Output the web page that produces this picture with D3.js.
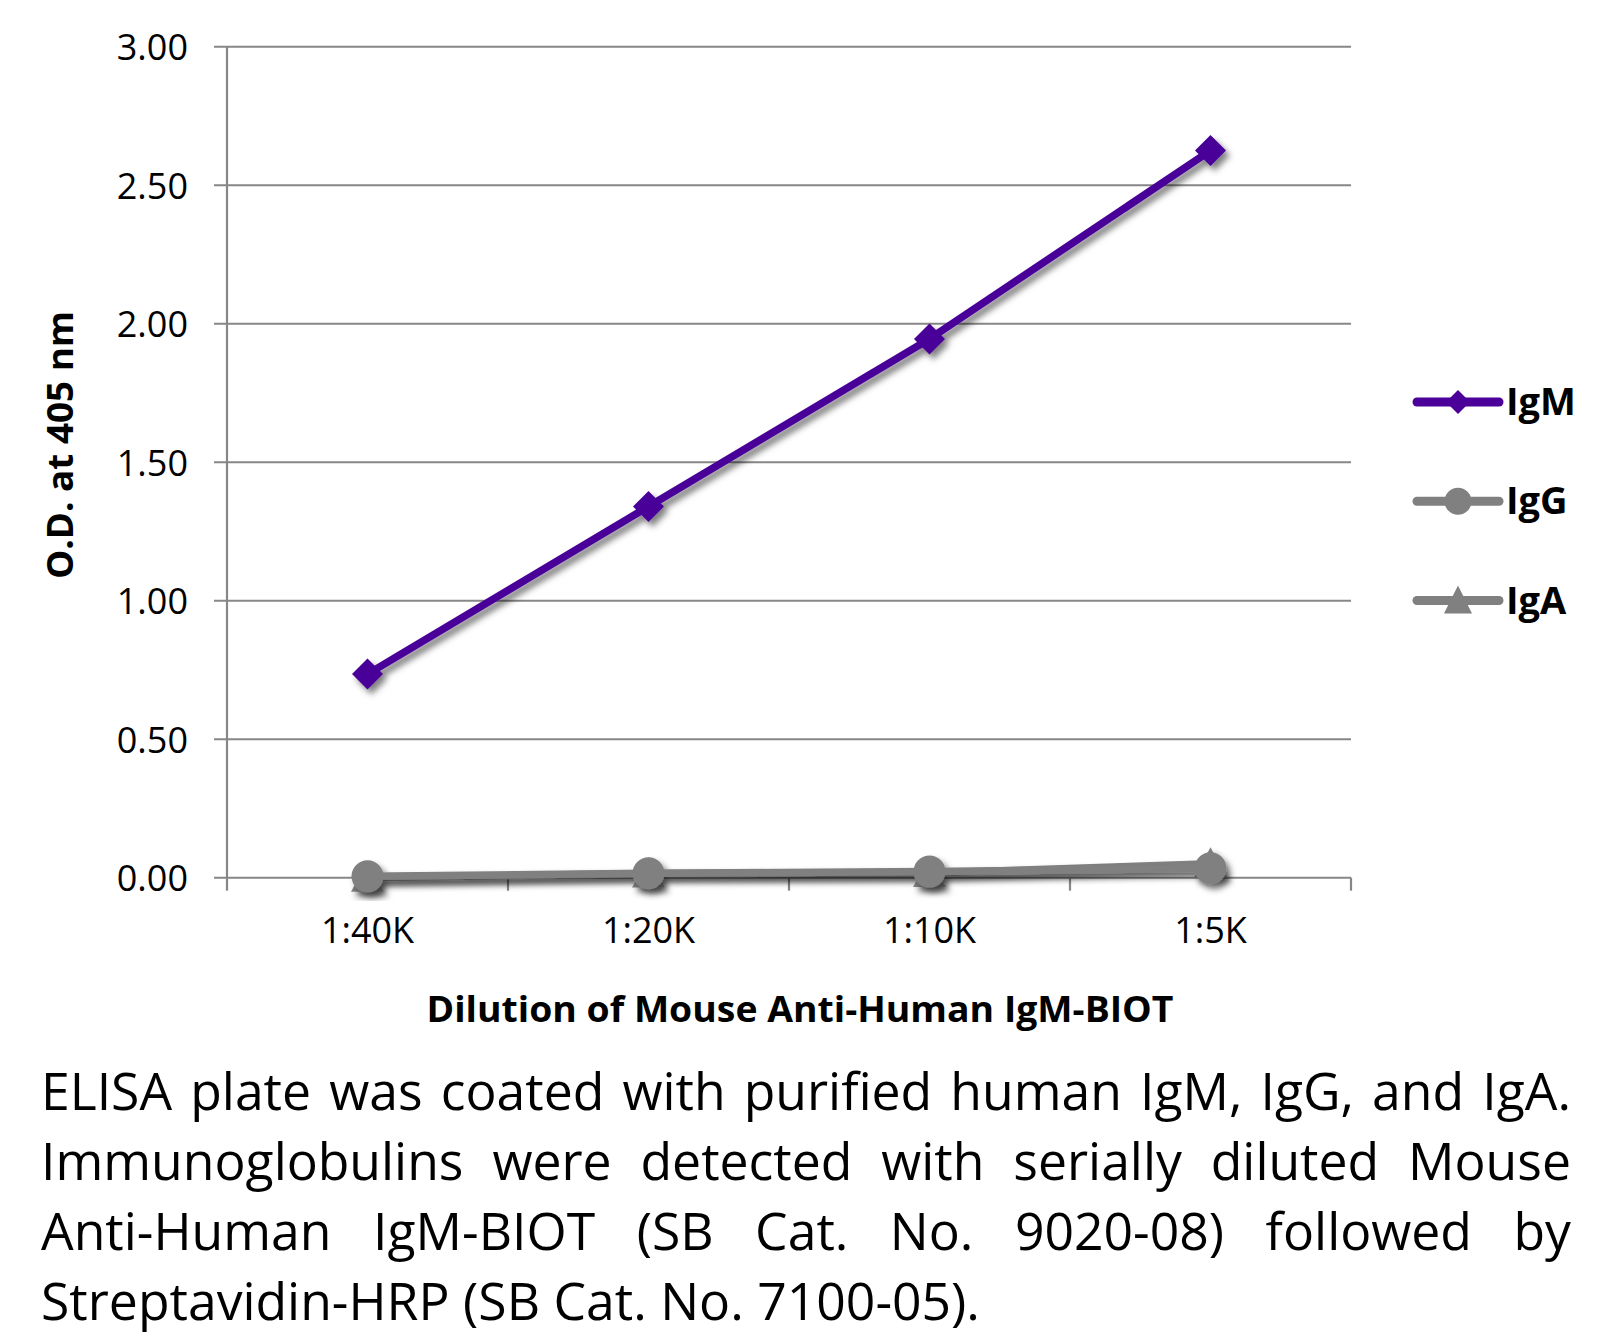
<!DOCTYPE html>
<html>
<head>
<meta charset="utf-8">
<script src="https://cdn.jsdelivr.net/npm/d3@7"></script>
<style>
  html, body { margin: 0; padding: 0; background: #fff; }
  svg { display: block; }
</style>
</head>
<body>
<svg id="chart" width="1618" height="1336"></svg>
<script>
// ---------- data ----------
const categories = ["1:40K", "1:20K", "1:10K", "1:5K"];
const seriesNames = ["IgM", "IgG", "IgA"];
const igmValues = [0.735, 1.34, 1.945, 2.625];
const iggValues = [0.005, 0.016, 0.022, 0.034];
const igaValues = [0.0, 0.015, 0.017, 0.05];
const yTickValues = [0, 0.5, 1.0, 1.5, 2.0, 2.5, 3.0];
const yAxisTitle = "O.D. at 405 nm";
const xAxisTitle = "Dilution of Mouse Anti-Human IgM-BIOT";
const captionLines = [
  "ELISA plate was coated with purified human IgM, IgG, and IgA.",
  "Immunoglobulins were detected with serially diluted Mouse",
  "Anti-Human IgM-BIOT (SB Cat. No. 9020-08) followed by",
  "Streptavidin-HRP (SB Cat. No. 7100-05)."
];

// ---------- layout ----------
const svg = d3.select("#chart");
const plot = { left: 227, right: 1351, top: 46.7, bottom: 877.7 };
const gridColor = "#878787";
const purple = "#4a0099";
const gray = "#808080";
const font = "'Open Sans', 'Noto Sans', sans-serif";

const x = d3.scaleBand().domain(categories).range([plot.left, plot.right]).padding(0);
const xc = d => x(d) + x.bandwidth() / 2;
const y = d3.scaleLinear().domain([0, 3]).range([plot.bottom, plot.top]);

// shadow filter
const defs = svg.append("defs");
const f = defs.append("filter").attr("id", "shadow")
  .attr("x", "-20%").attr("y", "-20%").attr("width", "140%").attr("height", "140%");
f.append("feDropShadow").attr("dx", 4).attr("dy", 5).attr("stdDeviation", 3.2)
  .attr("flood-color", "#000").attr("flood-opacity", 0.5);

// gridlines
svg.append("g").selectAll("line").data(yTickValues).join("line")
  .attr("x1", plot.left - 13).attr("x2", plot.right)
  .attr("y1", d => y(d)).attr("y2", d => y(d))
  .attr("stroke", gridColor).attr("stroke-width", 2);

// y axis line
svg.append("line").attr("x1", plot.left).attr("x2", plot.left)
  .attr("y1", plot.top).attr("y2", plot.bottom)
  .attr("stroke", gridColor).attr("stroke-width", 2.2);

// y axis labels via d3 axis
const yAxis = svg.append("g").attr("transform", `translate(${plot.left},0)`)
  .call(d3.axisLeft(y).tickValues(yTickValues).tickFormat(d3.format(".2f")).tickSize(0).tickPadding(39));
yAxis.select(".domain").remove();
yAxis.selectAll("text").attr("font-family", font).attr("font-size", 36)
  .attr("fill", "#000").attr("dy", "0.36em");

// x axis boundary ticks
const xTickPositions = categories.map(c => x(c)).concat([plot.right]);
svg.append("g").selectAll("line").data(xTickPositions).join("line")
  .attr("x1", d => d).attr("x2", d => d)
  .attr("y1", plot.bottom).attr("y2", plot.bottom + 13)
  .attr("stroke", gridColor).attr("stroke-width", 2.2);

// x axis labels via d3 axis
const xAxis = svg.append("g").attr("transform", `translate(0,${plot.bottom})`)
  .call(d3.axisBottom(x).tickSize(0).tickPadding(0));
xAxis.select(".domain").remove();
xAxis.selectAll("text").attr("font-family", font).attr("font-size", 36)
  .attr("fill", "#000").attr("y", 65).attr("dy", 0);

// axis titles
svg.append("text").text(xAxisTitle)
  .attr("x", 800).attr("y", 1022).attr("text-anchor", "middle")
  .attr("font-family", font).attr("font-weight", 700).attr("font-size", 35)
  .attr("textLength", 747).attr("lengthAdjust", "spacingAndGlyphs");

svg.append("text").text(yAxisTitle)
  .attr("transform", "translate(73,445) rotate(-90)")
  .attr("text-anchor", "middle")
  .attr("font-family", font).attr("font-weight", 700).attr("font-size", 35)
  .attr("textLength", 268).attr("lengthAdjust", "spacingAndGlyphs");

// ---------- series ----------
const series = [
  { name: "IgA", values: igaValues, color: gray, shape: "triangle", size: 33 },
  { name: "IgG", values: iggValues, color: gray, shape: "circle", size: 32 },
  { name: "IgM", values: igmValues, color: purple, shape: "diamond", size: 31 }
];

function markerPath(shape, size) {
  const h = size / 2;
  if (shape === "diamond") return `M0,${-h}L${h},0L0,${h}L${-h},0Z`;
  if (shape === "triangle") return `M0,${-h}L${h},${h * 0.85}L${-h},${h * 0.85}Z`;
  return null;
}

const line = d3.line().x((d, i) => xc(categories[i])).y(d => y(d));

series.forEach(s => {
  const g = svg.append("g").attr("filter", "url(#shadow)");
  g.append("path").attr("d", line(s.values))
    .attr("fill", "none").attr("stroke", s.color).attr("stroke-width", 7.5)
    .attr("stroke-linejoin", "round");
  const pts = g.selectAll(".pt").data(s.values).join(s.shape === "circle" ? "circle" : "path")
    .attr("fill", s.color);
  if (s.shape === "circle") {
    pts.attr("cx", (d, i) => xc(categories[i])).attr("cy", d => y(d)).attr("r", s.size / 2);
  } else {
    pts.attr("d", markerPath(s.shape, s.size))
      .attr("transform", (d, i) => `translate(${xc(categories[i])},${y(d)})`);
  }
});

// ---------- legend ----------
const legendY = d3.scalePoint().domain(seriesNames).range([402, 600.5]);
const legendInfo = { IgM: { color: purple, shape: "diamond", size: 24 },
                     IgG: { color: gray, shape: "circle", size: 27 },
                     IgA: { color: gray, shape: "triangle", size: 28 } };
seriesNames.forEach(n => {
  const info = legendInfo[n];
  const ly = legendY(n);
  const g = svg.append("g");
  g.append("line").attr("x1", 1417).attr("x2", 1499).attr("y1", ly).attr("y2", ly)
    .attr("stroke", info.color).attr("stroke-width", 9).attr("stroke-linecap", "round");
  if (info.shape === "circle") {
    g.append("circle").attr("cx", 1458).attr("cy", ly).attr("r", info.size / 2).attr("fill", info.color);
  } else if (info.shape === "triangle") {
    g.append("path").attr("d", `M0,${-info.size / 2}L${info.size / 2},${info.size / 2}L${-info.size / 2},${info.size / 2}Z`)
      .attr("transform", `translate(1458,${ly - 1})`).attr("fill", info.color);
  } else {
    g.append("path").attr("d", markerPath(info.shape, info.size))
      .attr("transform", `translate(1458,${ly})`).attr("fill", info.color);
  }
  g.append("text").text(n).attr("x", 1506).attr("y", ly + 13)
    .attr("font-family", font).attr("font-weight", 700).attr("font-size", 38)
    .attr("fill", "#000");
});

// ---------- caption (justified) ----------
const capLeft = 41, capRight = 1571, capFont = 52;
const capBaselines = [1110, 1180, 1250, 1320];
const lastLineWidth = 939;
const measure = svg.append("text").attr("font-family", font).attr("font-size", capFont);
function wWidth(w) { measure.text(w); return measure.node().getComputedTextLength(); }
const spaceW = (() => { measure.text("a a"); const a = measure.node().getComputedTextLength(); measure.text("aa"); return a - measure.node().getComputedTextLength(); })();
const lastWords = captionLines[3].split(" ");
const lastNatural = d3.sum(lastWords, wWidth) + spaceW * (lastWords.length - 1);
const sx = lastLineWidth / lastNatural;
captionLines.forEach((ln, li) => {
  const words = ln.split(" ");
  const widths = words.map(w => wWidth(w) * sx);
  let gap = spaceW * sx;
  if (li < captionLines.length - 1) gap = (capRight - capLeft - d3.sum(widths)) / (words.length - 1);
  let cx = capLeft;
  words.forEach((w, i) => {
    svg.append("text").text(w)
      .attr("transform", `translate(${cx},${capBaselines[li]}) scale(${sx},1)`)
      .attr("font-family", font).attr("font-size", capFont).attr("fill", "#000");
    cx += widths[i] + gap;
  });
});
measure.remove();
</script>
</body>
</html>
